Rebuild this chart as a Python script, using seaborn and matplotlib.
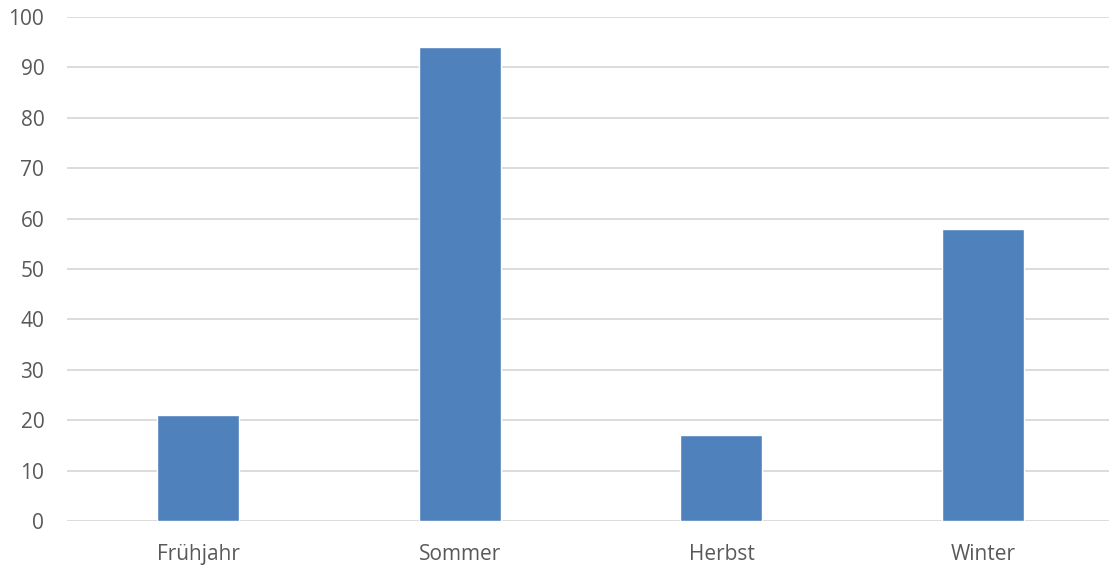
import matplotlib
matplotlib.use('Agg')
import matplotlib.pyplot as plt
import seaborn as sns
import pandas as pd

# Chart data
seasons = ['Frühjahr', 'Sommer', 'Herbst', 'Winter']
values = [21, 94, 17, 58]
y_ticks = list(range(0, 101, 10))

df = pd.DataFrame({'season': seasons, 'value': values})

sns.set_style('white')
plt.rcParams['font.family'] = ['Open Sans', 'DejaVu Sans']

fig = plt.figure(figsize=(11.09, 5.70), dpi=100)
ax = fig.add_axes([67.2 / 1109, 1 - 521 / 570, (1114 - 67.2) / 1109, (521 - 17) / 570])

sns.barplot(data=df, x='season', y='value', color='#4F81BD', width=0.313,
            saturation=1, ax=ax, zorder=3)

ax.set_ylim(0, 100)
ax.set_xlim(-0.5, 3.5)
ax.set_yticks(y_ticks)
ax.yaxis.grid(True, color='#D9D9D9', linewidth=1.3, zorder=0)
ax.set_axisbelow(True)
ax.tick_params(axis='both', length=0, labelsize=15, colors='#595959')
ax.tick_params(axis='y', pad=16.5)
ax.tick_params(axis='x', pad=16.5)
ax.set_xlabel('')
ax.set_ylabel('')
sns.despine(ax=ax, left=True, bottom=True)

fig.savefig('out.png', dpi=100)
